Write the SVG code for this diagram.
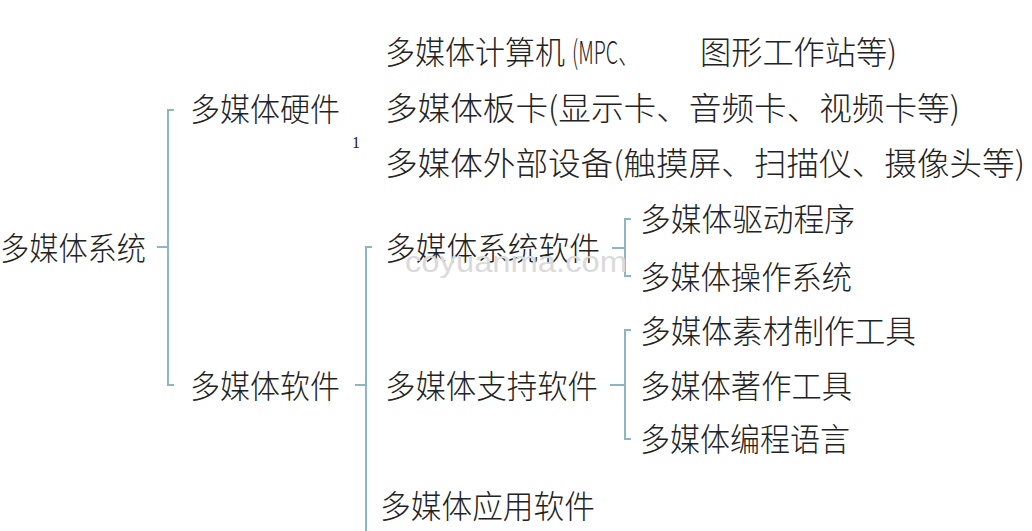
<svg xmlns="http://www.w3.org/2000/svg" width="1032" height="531" viewBox="0 0 1032 531">
<style>
.t{font-family:"Noto Sans CJK SC","Noto Sans",sans-serif;font-size:32px;fill:#222;font-weight:300}
.c{fill:none;stroke:#8cb6c4;stroke-width:2}
.n{font-family:"Liberation Serif",serif;font-size:16px;fill:#222}
.w{font-family:"Liberation Sans",sans-serif;font-size:30px;fill:#dadada}
</style>
<rect width="1032" height="531" fill="#fff"/>
<g id="connectors">
<path class="c" d="M157 247H168M174 110H168V385H174"/>
<path class="c" d="M355 385H366M372 247H366V531"/>
<path class="c" d="M612 248H625M631 219H625V276H631"/>
<path class="c" d="M610 385H625M631 330H625V439H631"/>
</g>
<g id="root"><text class="t" x="0" y="260" textLength="146" lengthAdjust="spacingAndGlyphs">多媒体系统</text></g>
<g id="hw"><text class="t" x="190" y="121" textLength="150" lengthAdjust="spacingAndGlyphs">多媒体硬件</text></g>
<g id="note"><text class="n" x="352" y="148">1</text></g>
<g id="hw1"><text class="t" x="385" y="64"><tspan textLength="180" lengthAdjust="spacingAndGlyphs">多媒体计算机</tspan><tspan x="572" textLength="66" lengthAdjust="spacingAndGlyphs">(MPC、</tspan><tspan x="700" textLength="197" lengthAdjust="spacingAndGlyphs">图形工作站等)</tspan></text></g>
<g id="hw2"><text class="t" x="385" y="120" textLength="575" lengthAdjust="spacingAndGlyphs">多媒体板卡(显示卡、音频卡、视频卡等)</text></g>
<g id="hw3"><text class="t" x="385" y="175" textLength="640" lengthAdjust="spacingAndGlyphs">多媒体外部设备(触摸屏、扫描仪、摄像头等)</text></g>
<g id="sw"><text class="t" x="190" y="398" textLength="150" lengthAdjust="spacingAndGlyphs">多媒体软件</text></g>
<g id="sys"><text class="t" x="385" y="260" textLength="215" lengthAdjust="spacingAndGlyphs">多媒体系统软件</text></g>
<g id="drv"><text class="t" x="640" y="231" textLength="215" lengthAdjust="spacingAndGlyphs">多媒体驱动程序</text></g>
<g id="os"><text class="t" x="640" y="289" textLength="212" lengthAdjust="spacingAndGlyphs">多媒体操作系统</text></g>
<g id="sup"><text class="t" x="385" y="398" textLength="213" lengthAdjust="spacingAndGlyphs">多媒体支持软件</text></g>
<g id="mat"><text class="t" x="640" y="343" textLength="276" lengthAdjust="spacingAndGlyphs">多媒体素材制作工具</text></g>
<g id="auth"><text class="t" x="640" y="398" textLength="212" lengthAdjust="spacingAndGlyphs">多媒体著作工具</text></g>
<g id="prog"><text class="t" x="640" y="451" textLength="210" lengthAdjust="spacingAndGlyphs">多媒体编程语言</text></g>
<g id="app"><text class="t" x="380" y="518" textLength="215" lengthAdjust="spacingAndGlyphs">多媒体应用软件</text></g>
<g id="watermark"><text class="w" x="405" y="272" textLength="222" lengthAdjust="spacingAndGlyphs">coyuanma.com</text></g>
</svg>
